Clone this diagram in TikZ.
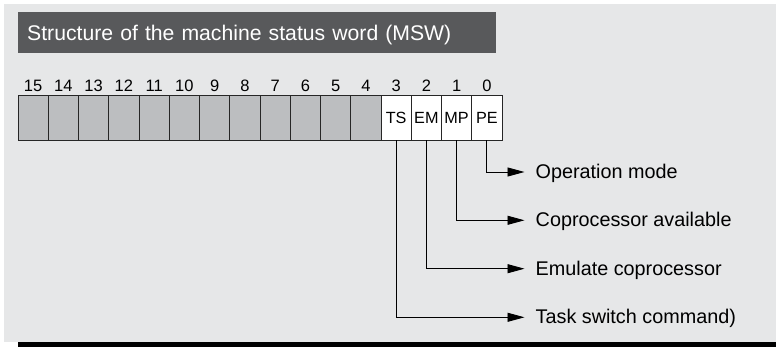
\documentclass[tikz,border=0pt]{standalone}
\usepackage{fontspec}
\setmainfont{Liberation Sans}
\usetikzlibrary{arrows.meta,positioning}
\definecolor{mswback}{RGB}{230,231,232}
\definecolor{mswtitle}{RGB}{88,89,91}
\definecolor{mswcell}{RGB}{188,190,192}

\tikzset{
  titlebar/.style={fill=mswtitle, text=white, anchor=north west, inner xsep=9pt, inner ysep=0pt,
    text width=460pt, minimum height=41pt, align=left, text height=15pt, text depth=0pt,
    font=\fontsize{21.2}{24}\selectfont},
  bitcell/.style={draw=black!85, line width=0.9pt, minimum width=30.25pt, minimum height=45pt,
    inner sep=0pt, font=\fontsize{16.2}{18}\selectfont},
  bitnum/.style={anchor=base, inner sep=0pt, font=\fontsize{16.5}{18}\selectfont},
  flaglabel/.style={anchor=west, inner sep=0pt, text height=13pt, text depth=0pt,
    font=\fontsize{19.8}{22}\selectfont},
  flagline/.style={draw=black, line width=0.9pt, shorten >=11pt,
    -{Triangle[length=17pt,width=9pt]}}
}

\begin{document}
\begin{tikzpicture}[x=1pt, y=-1pt]
\useasboundingbox (0,0) rectangle (776,347);

% ---- background and bottom rule ----
\fill[mswback] (4,4) rectangle (776,342);
\fill[black] (18,342) rectangle (776,347);

% ---- title ----
\node[titlebar] (title) at (18,12) {Structure of the machine status word (MSW)};

% ---- reserved bits 15..4 ----
\foreach \b in {15,14,...,4} {
  \node[bitcell, fill=mswcell] (b\b) at ({18+(15-\b)*30.25+15.125},117.5) {};
  \node[bitnum] (n\b) at ({18+(15-\b)*30.25+15.125},91.7) {\b};
}

% ---- flag bits 3..0 ----
\foreach \b/\name in {3/TS,2/EM,1/MP,0/PE} {
  \node[bitcell, fill=white] (b\b) at ({18+(15-\b)*30.25+15.125},117.5) {\name};
  \node[bitnum] (n\b) at ({18+(15-\b)*30.25+15.125},91.7) {\b};
}

% ---- meanings ----
\node[flaglabel] (pe-l) at (535.5,172) {Operation mode};
\node[flaglabel] (mp-l) at (535.5,220.3) {Coprocessor available};
\node[flaglabel] (em-l) at (535.5,268.7) {Emulate coprocessor};
\node[flaglabel] (ts-l) at (535.5,317.3) {Task switch command)};

\draw[flagline] (b0.south) |- (pe-l.west);
\draw[flagline] (b1.south) |- (mp-l.west);
\draw[flagline] (b2.south) |- (em-l.west);
\draw[flagline] (b3.south) |- (ts-l.west);

\end{tikzpicture}
\end{document}
